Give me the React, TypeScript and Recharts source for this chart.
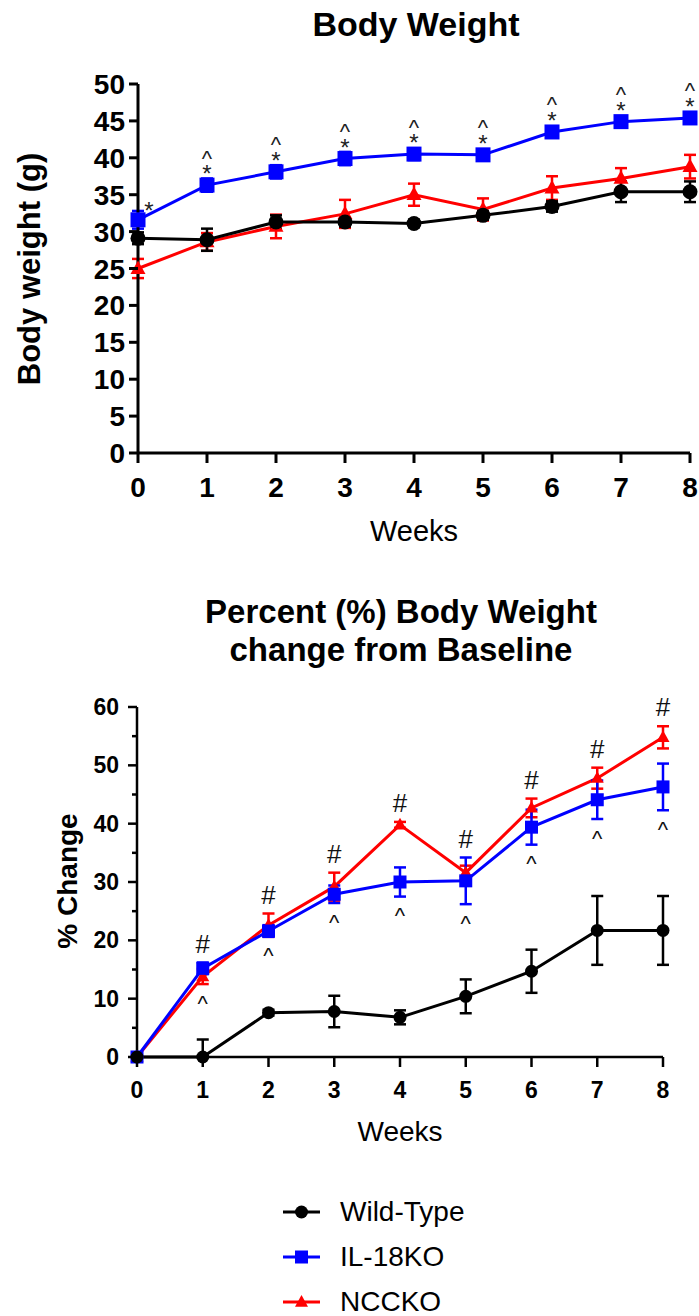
import React from "react";
import { ErrorBar, Line, LineChart, XAxis, YAxis } from "recharts";

const weeks = [0, 1, 2, 3, 4, 5, 6, 7, 8];

// body weight (g)
const wtWeight = [29.1, 28.9, 31.3, 31.3, 31.1, 32.2, 33.4, 35.4, 35.4];
const wtWeightErr = [0.8, 1.5, 0.9, 0.6, 0.5, 0.6, 0.7, 1.4, 1.4];
const il18Weight = [31.6, 36.3, 38.1, 39.9, 40.5, 40.4, 43.5, 44.9, 45.4];
const il18WeightErr = [1.2, 0.9, 0.9, 0.9, 0.8, 0.7, 0.7, 0.7, 0.7];
const ncckoWeight = [25.0, 28.6, 30.7, 32.4, 35.0, 33.0, 35.9, 37.2, 38.8];
const ncckoWeightErr = [1.3, 1.2, 1.6, 1.9, 1.5, 1.5, 1.6, 1.4, 1.6];
const weightMarks = ["*", "^*", "^*", "^*", "^*", "^*", "^*", "^*", "^*"];

// % change from baseline
const wtPct = [0, 0, 7.6, 7.8, 6.8, 10.4, 14.7, 21.7, 21.7];
const wtPctErr = [0, 3.0, 0.5, 2.7, 1.2, 2.9, 3.7, 5.9, 5.9];
const il18Pct = [0, 15.2, 21.6, 27.9, 30.0, 30.2, 39.4, 44.1, 46.3];
const il18PctErr = [0, 1.0, 1.0, 1.5, 2.5, 4.0, 3.0, 3.3, 4.0];
const ncckoPct = [0, 13.8, 22.6, 29.2, 39.8, 31.6, 42.7, 47.8, 54.8];
const ncckoPctErr = [0, 1.3, 2.0, 2.4, 0.5, 1.2, 1.6, 1.8, 1.9];
const pctHash = [false, true, true, true, true, true, true, true, true];
const pctCaret = [false, true, true, true, true, true, true, true, true];

const weightTicks = [0, 5, 10, 15, 20, 25, 30, 35, 40, 45, 50];
const pctTicks = [0, 5, 10, 15, 20, 25, 30, 35, 40, 45, 50, 55, 60];

const seriesNames = ["Wild-Type", "IL-18KO", "NCCKO"];
const seriesColors = ["#000000", "#0000ff", "#ff0000"];
type Shape = "circle" | "square" | "triangle";
const seriesShapes: Shape[] = ["circle", "square", "triangle"];

const FONT = '"Liberation Sans", Arial, Helvetica, sans-serif';

// the graph cuts whiskers off at the x axis
const clipErr = (v: number, e: number) => [Math.min(e, Math.max(v, 0)), e];

const weightData = weeks.map((w, i) => ({
  week: w,
  wt: wtWeight[i],
  wtErr: wtWeightErr[i],
  il18: il18Weight[i],
  il18Err: il18WeightErr[i],
  nccko: ncckoWeight[i],
  ncckoErr: ncckoWeightErr[i],
}));

const pctData = weeks.map((w, i) => ({
  week: w,
  wt: wtPct[i],
  wtErr: clipErr(wtPct[i], wtPctErr[i]),
  il18: il18Pct[i],
  il18Err: clipErr(il18Pct[i], il18PctErr[i]),
  nccko: ncckoPct[i],
  ncckoErr: clipErr(ncckoPct[i], ncckoPctErr[i]),
  hashAt: Math.max(il18Pct[i] + il18PctErr[i], ncckoPct[i] + ncckoPctErr[i]),
  caretAt: Math.max(0, Math.min(il18Pct[i] - il18PctErr[i], ncckoPct[i] - ncckoPctErr[i])),
}));

function marker(shape: Shape, cx: number, cy: number, size: number, color: string, key?: string) {
  if (shape === "circle") return <circle key={key} cx={cx} cy={cy} r={size / 2} fill={color} />;
  if (shape === "square")
    return <rect key={key} x={cx - size / 2} y={cy - size / 2} width={size} height={size} fill={color} />;
  const h = size * 0.9;
  return (
    <polygon
      key={key}
      points={`${cx},${cy - h * 0.6} ${cx + size / 2},${cy + h * 0.4} ${cx - size / 2},${cy + h * 0.4}`}
      fill={color}
    />
  );
}

const dotFor = (s: number, size: number) => (p: any) => {
  if (p.cx == null || p.cy == null) return <g key={`n${p.index}`} />;
  return marker(seriesShapes[s], p.cx, p.cy, size, seriesColors[s], `d${s}-${p.index}`);
};

const WeightYTick = (p: any) => (
  <g>
    <line x1={p.x - 9} x2={p.x} y1={p.y} y2={p.y} stroke="#000" strokeWidth={3} />
    <text x={p.x - 13} y={p.y + 10} textAnchor="end" fontFamily={FONT} fontWeight={700} fontSize={28} fill="#000">
      {p.payload.value}
    </text>
  </g>
);

const WeightXTick = (p: any) => (
  <g>
    <line x1={p.x} x2={p.x} y1={p.y} y2={p.y + 10} stroke="#000" strokeWidth={3} />
    <text x={p.x} y={p.y + 44} textAnchor="middle" fontFamily={FONT} fontWeight={700} fontSize={28} fill="#000">
      {p.payload.value}
    </text>
  </g>
);

const PctYTick = (p: any) => {
  const major = p.payload.value % 10 === 0;
  return (
    <g>
      <line x1={p.x - (major ? 9 : 5)} x2={p.x} y1={p.y} y2={p.y} stroke="#000" strokeWidth={2.5} />
      {major && (
        <text x={p.x - 18} y={p.y + 8} textAnchor="end" fontFamily={FONT} fontWeight={700} fontSize={23} fill="#000">
          {p.payload.value}
        </text>
      )}
    </g>
  );
};

const PctXTick = (p: any) => (
  <g>
    <line x1={p.x} x2={p.x} y1={p.y} y2={p.y + 10} stroke="#000" strokeWidth={2.5} />
    <text x={p.x} y={p.y + 41} textAnchor="middle" fontFamily={FONT} fontWeight={700} fontSize={23} fill="#000">
      {p.payload.value}
    </text>
  </g>
);

const weightMarkDot = (p: any) => {
  const m = weightMarks[p.index] || "";
  if (p.cx == null) return <g key={`wm${p.index}`} />;
  const starX = p.index === 0 ? p.cx + 11 : p.cx;
  const starC = p.index === 0 ? p.cy - 15 : p.cy - 17;
  return (
    <g key={`wm${p.index}`} fontFamily={FONT} fill="#222">
      {m.includes("*") && (
        <text x={starX} y={starC + 14} textAnchor="middle" fontSize={24}>
          *
        </text>
      )}
      {m.includes("^") && (
        <text x={p.cx} y={p.cy - 31 + 11.5} textAnchor="middle" fontSize={22}>
          ^
        </text>
      )}
    </g>
  );
};

const hashDot = (p: any) => {
  if (p.cx == null || !pctHash[p.index]) return <g key={`h${p.index}`} />;
  return (
    <text key={`h${p.index}`} x={p.cx} y={p.cy - 19 + 9} textAnchor="middle" fontFamily={FONT} fontSize={26} fill="#111">
      #
    </text>
  );
};

const caretDot = (p: any) => {
  if (p.cx == null || !pctCaret[p.index]) return <g key={`c${p.index}`} />;
  return (
    <text key={`c${p.index}`} x={p.cx} y={p.cy + 15 + 11.5} textAnchor="middle" fontFamily={FONT} fontSize={22} fill="#111">
      ^
    </text>
  );
};

const seriesKeys = ["wt", "il18", "nccko"];
const drawOrder = [2, 1, 0];

function WeightChart() {
  return (
    <LineChart width={699} height={560} data={weightData} margin={{ top: 84, right: 9, left: 78, bottom: 47 }}>
      <XAxis
        dataKey="week"
        type="number"
        domain={[0, 8]}
        ticks={weeks}
        interval={0}
        height={60}
        tickSize={0}
        tickMargin={0}
        tickLine={false}
        axisLine={{ stroke: "#000", strokeWidth: 3 }}
        tick={WeightXTick}
      />
      <YAxis
        type="number"
        domain={[0, 50]}
        ticks={weightTicks}
        interval={0}
        width={60}
        tickSize={0}
        tickMargin={0}
        tickLine={false}
        axisLine={{ stroke: "#000", strokeWidth: 3 }}
        tick={WeightYTick}
      />
      {drawOrder.map((s) => (
        <Line
          key={seriesKeys[s]}
          dataKey={seriesKeys[s]}
          stroke={seriesColors[s]}
          strokeWidth={3}
          dot={dotFor(s, 15)}
          activeDot={false}
          isAnimationActive={false}
        >
          <ErrorBar dataKey={`${seriesKeys[s]}Err`} width={6} stroke={seriesColors[s]} strokeWidth={2.5} direction="y" />
        </Line>
      ))}
      <Line dataKey="il18" stroke="none" dot={weightMarkDot} activeDot={false} legendType="none" isAnimationActive={false} />
    </LineChart>
  );
}

function PctChart() {
  return (
    <LineChart width={699} height={480} data={pctData} margin={{ top: 17, right: 36, left: 77, bottom: 53 }}>
      <XAxis
        dataKey="week"
        type="number"
        domain={[0, 8]}
        ticks={weeks}
        interval={0}
        height={60}
        tickSize={0}
        tickMargin={0}
        tickLine={false}
        axisLine={{ stroke: "#000", strokeWidth: 2.5 }}
        tick={PctXTick}
      />
      <YAxis
        type="number"
        domain={[0, 60]}
        ticks={pctTicks}
        interval={0}
        width={60}
        tickSize={0}
        tickMargin={0}
        tickLine={false}
        axisLine={{ stroke: "#000", strokeWidth: 2.5 }}
        tick={PctYTick}
      />
      {drawOrder.map((s) => (
        <Line
          key={seriesKeys[s]}
          dataKey={seriesKeys[s]}
          stroke={seriesColors[s]}
          strokeWidth={3}
          dot={dotFor(s, 13)}
          activeDot={false}
          isAnimationActive={false}
        >
          <ErrorBar dataKey={`${seriesKeys[s]}Err`} width={6} stroke={seriesColors[s]} strokeWidth={2.5} direction="y" />
        </Line>
      ))}
      <Line dataKey="hashAt" stroke="none" dot={hashDot} activeDot={false} legendType="none" isAnimationActive={false} />
      <Line dataKey="caretAt" stroke="none" dot={caretDot} activeDot={false} legendType="none" isAnimationActive={false} />
    </LineChart>
  );
}

export default function App() {
  const legendY = [1212, 1257, 1302];
  return (
    <div style={{ position: "absolute", left: 0, top: 0, width: 699, height: 1316, background: "#fff", overflow: "hidden" }}>
      <div style={{ position: "absolute", left: 0, top: 0 }}>
        <WeightChart />
      </div>
      <div style={{ position: "absolute", left: 0, top: 690 }}>
        <PctChart />
      </div>
      <svg width={699} height={1316} style={{ position: "absolute", left: 0, top: 0, pointerEvents: "none" }}>
        <g fontFamily={FONT} fill="#000">
          <text x={416} y={36} textAnchor="middle" fontSize={34} fontWeight={700}>
            Body Weight
          </text>
          <text x={414} y={541} textAnchor="middle" fontSize={29}>
            Weeks
          </text>
          <text transform="translate(40,269) rotate(-90)" textAnchor="middle" fontSize={31} fontWeight={700}>
            Body weight (g)
          </text>
          <text x={401} y={623} textAnchor="middle" fontSize={33} fontWeight={700}>
            Percent (%) Body Weight
          </text>
          <text x={401} y={661} textAnchor="middle" fontSize={33} fontWeight={700}>
            change from Baseline
          </text>
          <text x={400} y={1141} textAnchor="middle" fontSize={28}>
            Weeks
          </text>
          <text transform="translate(77,881) rotate(-90)" textAnchor="middle" fontSize={28} fontWeight={700}>
            % Change
          </text>
          {seriesNames.map((name, s) => (
            <g key={name}>
              <line x1={283} x2={320} y1={legendY[s]} y2={legendY[s]} stroke={seriesColors[s]} strokeWidth={3} />
              {marker(seriesShapes[s], 301.5, legendY[s], 13, seriesColors[s])}
              <text x={340} y={legendY[s] + 9} fontSize={28}>
                {name}
              </text>
            </g>
          ))}
        </g>
      </svg>
    </div>
  );
}
